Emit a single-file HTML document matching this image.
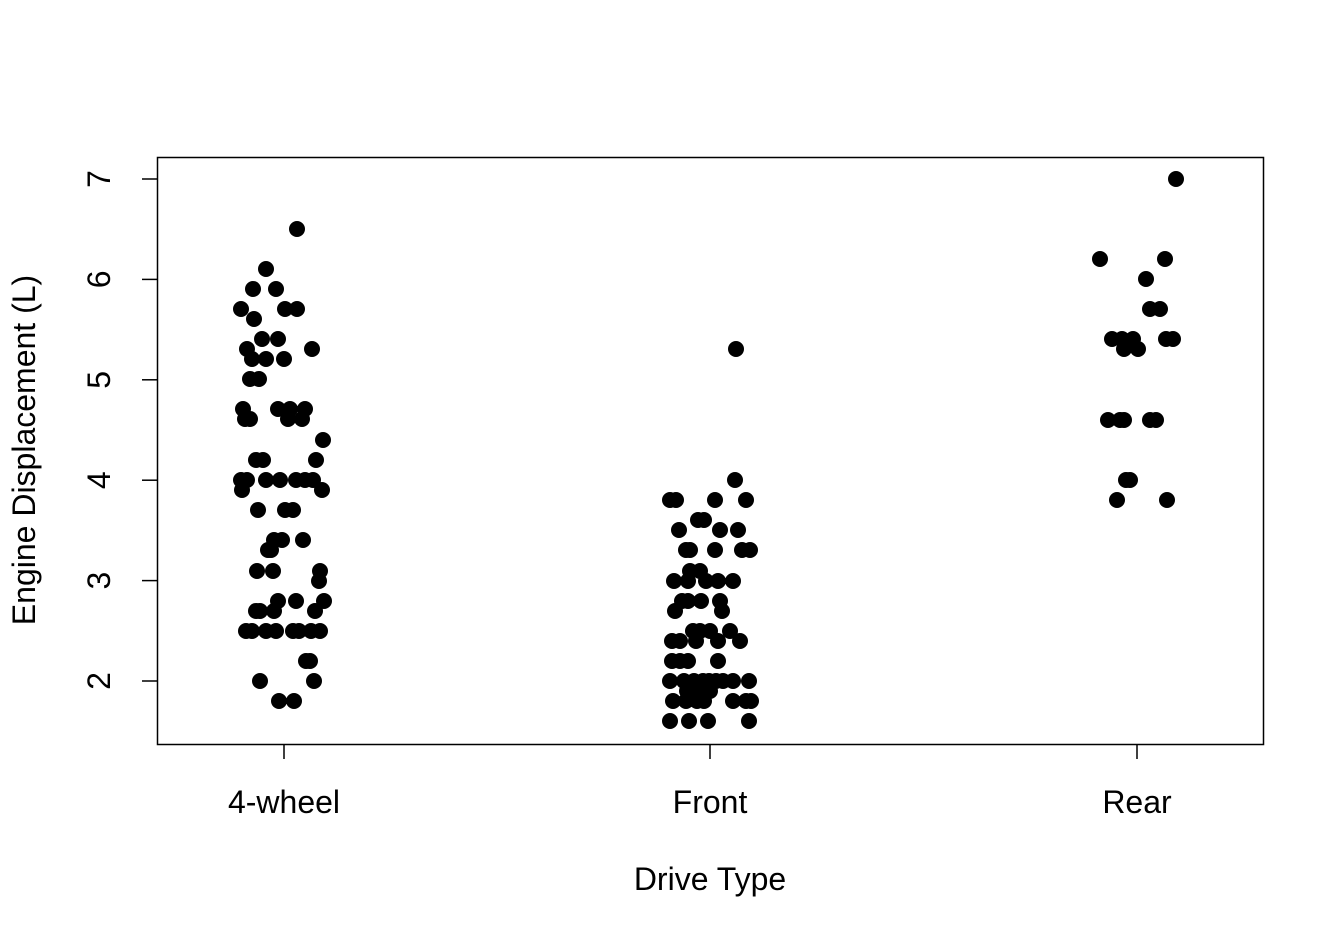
<!DOCTYPE html>
<html><head><meta charset="utf-8"><style>body{margin:0;background:#fff}svg{display:block}text{font-family:"Liberation Sans",Arial,sans-serif;fill:#000}</style></head><body>
<svg width="1344" height="940" viewBox="0 0 1344 940">
<rect x="157.5" y="157.5" width="1106" height="587" fill="none" stroke="#000" stroke-width="1.5"/>
<g stroke="#000" stroke-width="1.5">
<line x1="157" y1="179" x2="142" y2="179"/><line x1="157" y1="279.4" x2="142" y2="279.4"/><line x1="157" y1="379.8" x2="142" y2="379.8"/><line x1="157" y1="480.2" x2="142" y2="480.2"/><line x1="157" y1="580.6" x2="142" y2="580.6"/><line x1="157" y1="681" x2="142" y2="681"/>
<line x1="284" y1="744" x2="284" y2="759"/><line x1="710" y1="744" x2="710" y2="759"/><line x1="1137" y1="744" x2="1137" y2="759"/>
</g>
<g text-anchor="middle" style="font-size:32px">
<text transform="translate(110,179) rotate(-90)">7</text>
<text transform="translate(110,279.4) rotate(-90)">6</text>
<text transform="translate(110,379.8) rotate(-90)">5</text>
<text transform="translate(110,480.2) rotate(-90)">4</text>
<text transform="translate(110,580.6) rotate(-90)">3</text>
<text transform="translate(110,681) rotate(-90)">2</text>
<text x="284" y="813">4-wheel</text><text x="710" y="813">Front</text><text x="1137" y="813">Rear</text>
<text x="710" y="890">Drive Type</text>
<text transform="translate(35,450) rotate(-90)">Engine Displacement (L)</text>
</g>
<g id="p" fill="#000"></g>
</svg>
<script>
var pts=[[297,229],[266,269],[253,289],[276,289],[241,309],[285,309],[297,309],[254,319],[247,349],[262,339],[278,339],[312,349],[252,359],[266,359],[284,359],[250,379],[259,379],[243,409],[278,409],[290,409],[305,409],[245,419],[250,419],[288,419],[302,419],[323,440],[256,460],[263,460],[316,460],[241,480],[247,480],[266,480],[280,480],[296,480],[305,480],[313,480],[242,490],[322,490],[258,510],[285,510],[293,510],[274,540],[282,540],[303,540],[271,550],[268,550],[257,571],[273,571],[320,571],[319,581],[278,601],[296,601],[256,611],[260,611],[274,611],[315,611],[324,601],[246,631],[252,631],[266,631],[276,631],[293,631],[299,631],[311,631],[320,631],[306,661],[310,661],[260,681],[314,681],[279,701],[294,701],
[736,349],[735,480],[670,500],[676,500],[715,500],[746,500],[698,520],[704,520],[679,530],[720,530],[738,530],[686,550],[690,550],[715,550],[742,550],[750,550],[690,571],[700,571],[688,581],[706,581],[718,581],[733,581],[674,581],[688,601],[682,601],[701,601],[720,601],[675,611],[722,611],[693,631],[700,631],[710,631],[730,631],[672,641],[680,641],[696,641],[718,641],[740,641],[672,661],[680,661],[688,661],[718,661],[670,681],[684,681],[694,681],[703,681],[709,681],[716,681],[723,681],[733,681],[749,681],[687,691],[700,691],[710,691],[673,701],[686,701],[697,701],[704,701],[733,701],[746,701],[751,701],[670,721],[689,721],[708,721],[749,721],
[1100,259],[1165,259],[1176,179],[1146,279],[1150,309],[1160,309],[1112,339],[1122,339],[1133,339],[1166,339],[1173,339],[1124,349],[1138,349],[1108,420],[1120,420],[1124,420],[1150,420],[1156,420],[1126,480],[1130,480],[1117,500],[1167,500]];
var g=document.getElementById('p'),s='';
pts.forEach(function(p){s+='<circle cx="'+p[0]+'" cy="'+p[1]+'" r="8"/>';});
g.innerHTML=s;
</script>
</body></html>
